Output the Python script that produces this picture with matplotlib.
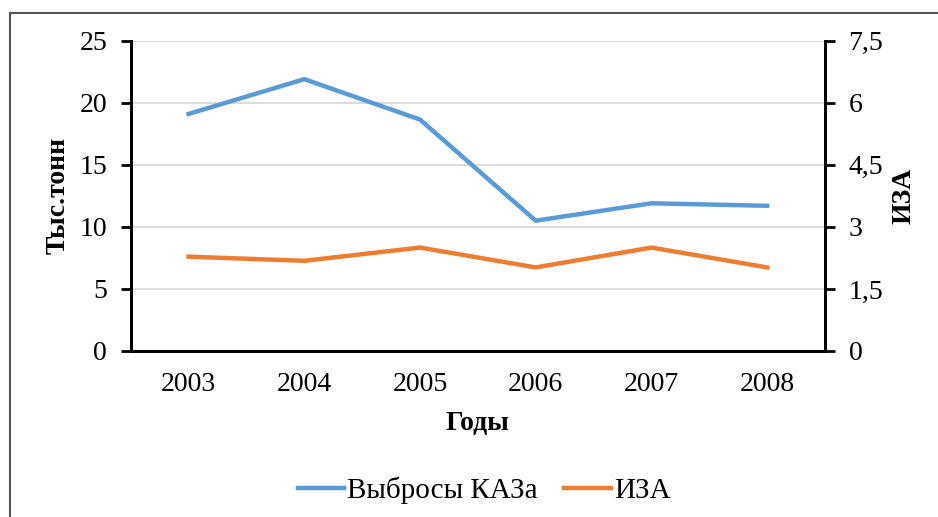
import matplotlib
matplotlib.use("Agg")
import matplotlib.pyplot as plt
from matplotlib.patches import Rectangle

years = ["2003", "2004", "2005", "2006", "2007", "2008"]
vybrosy = [19.1, 21.9, 18.65, 10.5, 11.9, 11.7]
iza = [2.28, 2.18, 2.5, 2.02, 2.5, 2.02]

left_ticks = [0, 5, 10, 15, 20, 25]
right_ticks = [0, 1.5, 3, 4.5, 6, 7.5]
right_labels = ["0", "1,5", "3", "4,5", "6", "7,5"]

plt.rcParams['font.family'] = ['Liberation Serif', 'DejaVu Serif']

fig = plt.figure(figsize=(9.38, 5.17), dpi=100)
# grey frame around the chart area
fig.patches.append(Rectangle((10 / 938, -0.1), 1.2, 1 - 13 / 517 + 0.1,
                             transform=fig.transFigure, fill=False,
                             edgecolor='#555555', linewidth=1.5))

ax = fig.add_axes([130.7 / 938, 1 - 351 / 517, (825 - 130.7) / 938, (351 - 40.7) / 517])
ax2 = ax.twinx()

x = [i + 0.5 for i in range(len(years))]
l1, = ax.plot(x, vybrosy, color='#5B9BD5', linewidth=3.2, label='Выбросы КАЗа')
l2, = ax2.plot(x, iza, color='#ED7D31', linewidth=3.2, label='ИЗА')

ax.set_xlim(0, 6)
ax.set_ylim(0, 25)
ax2.set_ylim(0, 7.5)
ax.set_xticks(x)
ax.set_xticklabels(years)
ax.set_yticks(left_ticks)
ax2.set_yticks(right_ticks)
ax2.set_yticklabels(right_labels)

ax.grid(axis='y', color='#D9D9D9', linewidth=1.3)
ax.set_axisbelow(True)

for a in (ax, ax2):
    a.spines['top'].set_visible(False)
    for s in ('left', 'right', 'bottom'):
        a.spines[s].set_linewidth(2)
        a.spines[s].set_color('black')

ax.tick_params(axis='x', length=0, pad=15, labelsize=20)
ax.tick_params(axis='y', length=7, width=2, pad=10, labelsize=20)
ax2.tick_params(axis='y', length=7, width=2, pad=10, labelsize=20)

ax.set_ylabel('Тыс.тонн', fontsize=20, fontweight='bold', labelpad=6)
ax2.set_ylabel('ИЗА', fontsize=20, fontweight='bold', labelpad=6)
ax.set_xlabel('Годы', fontsize=20, fontweight='bold', labelpad=10)

fig.legend(handles=[l1, l2], loc='center', bbox_to_anchor=(484 / 938, 1 - 490 / 517),
           ncol=2, frameon=False, fontsize=21, handlelength=1.6,
           handletextpad=0.1, columnspacing=0.9)

fig.savefig('out.png', dpi=100)
